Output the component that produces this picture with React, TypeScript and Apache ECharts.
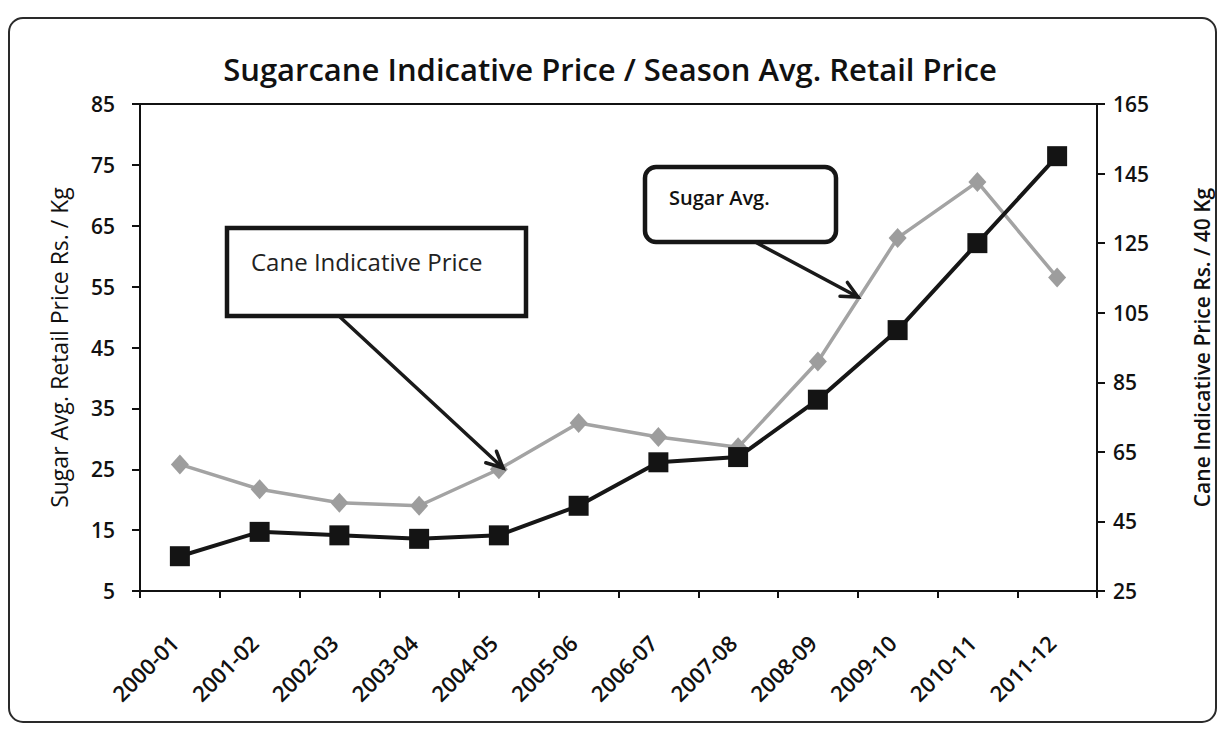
import React, { useEffect, useRef } from "react";
import * as echarts from "echarts";

const categories = [
  "2000-01", "2001-02", "2002-03", "2003-04", "2004-05", "2005-06",
  "2006-07", "2007-08", "2008-09", "2009-10", "2010-11", "2011-12",
];
// Sugar average retail price, Rs. / Kg (left axis, grey diamonds)
const sugarAvgRetail = [25.8, 21.7, 19.5, 19.0, 25.0, 32.6, 30.3, 28.6, 42.7, 63.0, 72.2, 56.5];
// Cane indicative price, Rs. / 40 Kg (right axis, black squares)
const caneIndicative = [35, 42, 41, 40, 41, 49.5, 62, 63.5, 80, 100, 125, 150];

const leftAxisRange = { min: 5, max: 85, interval: 10 };
const rightAxisRange = { min: 25, max: 165, interval: 20 };

const FONT = "'Open Sans', 'Noto Sans', sans-serif";

function arrow(x1: number, y1: number, x2: number, y2: number) {
  const ang = Math.atan2(y2 - y1, x2 - x1);
  const len = 18;
  const spread = 0.45;
  const a1 = ang + Math.PI - spread;
  const a2 = ang + Math.PI + spread;
  const st = { stroke: "#1a1a1a", lineWidth: 3.5, lineCap: "round" };
  return [
    { type: "line", shape: { x1, y1, x2, y2 }, style: st, z: 20 },
    {
      type: "polyline",
      shape: {
        points: [
          [x2 + len * Math.cos(a1), y2 + len * Math.sin(a1)],
          [x2, y2],
          [x2 + len * Math.cos(a2), y2 + len * Math.sin(a2)],
        ],
      },
      style: { ...st, fill: "none" },
      z: 20,
    },
  ];
}

export default function App() {
  const ref = useRef<HTMLDivElement>(null);

  useEffect(() => {
    if (!ref.current) return;
    const chart = echarts.init(ref.current, undefined, { renderer: "svg" });
    const option: any = {
      animation: false,
      backgroundColor: "#ffffff",
      title: {
        text: "Sugarcane Indicative Price / Season Avg. Retail Price",
        left: "center",
        top: 48,
        textStyle: { fontFamily: FONT, fontSize: 31, fontWeight: 600, color: "#111" },
      },
      grid: {
        left: 140,
        right: 120,
        top: 104,
        bottom: 148,
        show: true,
        borderColor: "#111",
        borderWidth: 2,
        backgroundColor: "transparent",
      },
      xAxis: {
        type: "category",
        data: categories,
        boundaryGap: true,
        axisLine: { lineStyle: { color: "#111", width: 2 } },
        axisTick: { show: true, length: 7, lineStyle: { color: "#111", width: 2 } },
        axisLabel: {
          rotate: 45,
          margin: 42,
          padding: [0, 8, 0, 0],
          fontFamily: FONT,
          fontSize: 22,
          fontWeight: 600,
          color: "#111",
          interval: 0,
        },
        splitLine: { show: false },
      },
      yAxis: [
        {
          type: "value",
          position: "left",
          ...leftAxisRange,
          name: "Sugar Avg. Retail Price Rs. / Kg",
          nameLocation: "middle",
          nameGap: 70,
          nameRotate: 90,
          nameTextStyle: { fontFamily: FONT, fontSize: 23, color: "#111" },
          axisLine: { show: true, lineStyle: { color: "#111", width: 2 } },
          axisTick: { show: true, length: 8, lineStyle: { color: "#111", width: 2 } },
          axisLabel: { margin: 25, fontFamily: FONT, fontSize: 21, fontWeight: 600, color: "#111" },
          splitLine: { show: false },
        },
        {
          type: "value",
          position: "right",
          ...rightAxisRange,
          name: "Cane Indicative Price Rs. / 40 Kg",
          nameLocation: "middle",
          nameGap: 94,
          nameRotate: 90,
          nameTextStyle: { fontFamily: FONT, fontSize: 21, fontWeight: 600, color: "#111" },
          axisLine: { show: true, lineStyle: { color: "#111", width: 2 } },
          axisTick: { show: true, length: 8, lineStyle: { color: "#111", width: 2 } },
          axisLabel: { margin: 16, fontFamily: FONT, fontSize: 21, fontWeight: 600, color: "#111" },
          splitLine: { show: false },
        },
      ],
      series: [
        {
          name: "Sugar Avg.",
          type: "line",
          yAxisIndex: 0,
          data: sugarAvgRetail,
          symbol: "diamond",
          symbolSize: [18, 20],
          lineStyle: { color: "#a3a3a3", width: 3.5 },
          itemStyle: { color: "#9d9d9d" },
          z: 3,
        },
        {
          name: "Cane Indicative Price",
          type: "line",
          yAxisIndex: 1,
          data: caneIndicative,
          symbol: "rect",
          symbolSize: 20,
          lineStyle: { color: "#161616", width: 4 },
          itemStyle: { color: "#141414" },
          z: 4,
        },
      ],
      graphic: [
        {
          type: "rect",
          shape: { x: 9, y: 18, width: 1207, height: 704, r: 14 },
          style: { fill: "none", stroke: "#2a2a2a", lineWidth: 2 },
          z: 1,
        },
        {
          type: "rect",
          shape: { x: 227, y: 228, width: 299, height: 88 },
          style: { fill: "#ffffff", stroke: "#161616", lineWidth: 4.5 },
          z: 15,
        },
        {
          type: "text",
          x: 251,
          y: 261,
          style: {
            text: "Cane Indicative Price",
            font: "400 24px " + FONT,
            fill: "#222",
            verticalAlign: "middle",
          },
          z: 16,
        },
        {
          type: "rect",
          shape: { x: 645, y: 167, width: 191, height: 75, r: 11 },
          style: { fill: "#ffffff", stroke: "#161616", lineWidth: 4.5 },
          z: 15,
        },
        {
          type: "text",
          x: 669,
          y: 197,
          style: {
            text: "Sugar Avg.",
            font: "600 20px " + FONT,
            fill: "#111",
            verticalAlign: "middle",
          },
          z: 16,
        },
        ...arrow(340, 317, 503, 468),
        ...arrow(757, 243, 858, 297),
      ],
    };
    chart.setOption(option);
    return () => chart.dispose();
  }, []);

  return (
    <div
      ref={ref}
      style={{ position: "fixed", left: 0, top: 0, width: 1220, height: 739, background: "#fff" }}
    />
  );
}
